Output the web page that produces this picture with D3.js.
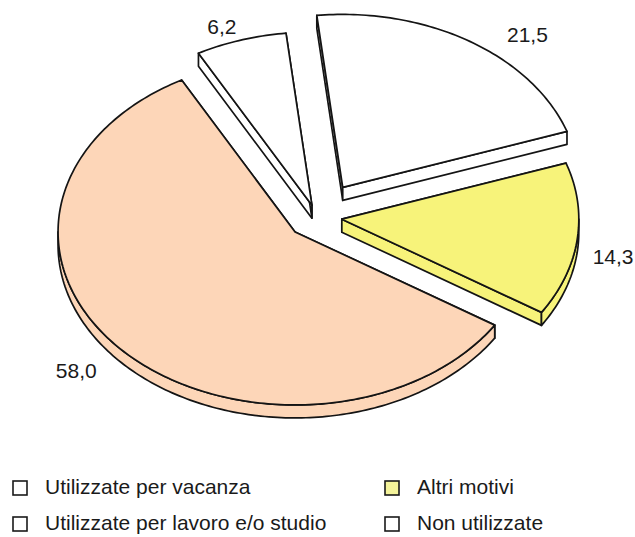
<!DOCTYPE html>
<html>
<head>
<meta charset="utf-8">
<script src="https://cdn.jsdelivr.net/npm/d3@7"></script>
<style>
  body { margin: 0; background: #ffffff; }
  text { font-family: "Liberation Sans", Arial, Helvetica, sans-serif; }
</style>
</head>
<body>
<svg id="chart" width="635" height="537"></svg>
<script>
// Slices, clockwise from the lower-right edge of the large slice
const categories = ["Utilizzate per vacanza", "Utilizzate per lavoro e/o studio", "Non utilizzate", "Altri motivi"];
const values = [58.0, 6.2, 21.5, 14.3];
const valueLabels = ["58,0", "6,2", "21,5", "14,3"];
const sliceColors = ["#fdd6b8", "#ffffff", "#ffffff", "#f7f37a"];

// Legend, read row by row in two columns
const legendItems = ["Utilizzate per vacanza", "Altri motivi", "Utilizzate per lavoro e/o studio", "Non utilizzate"];
const legendSwatches = ["#ffffff", "#f4f39a", "#ffffff", "#ffffff"];

// Layout of the tilted pie
const cx = 317, cy = 217;       // pie centre
const rx = 237, ry = 173;       // ellipse radii of the top face
const depth = 13;               // thickness of the disc
const startDeg = 122.6;         // where the first slice begins (d3 angle, clockwise from 12 o'clock)
const explode = [30, 17, 48, 25];            // push-out of each slice
const labelNudge = [[-16, 2], [-7, 16], [36, 20], [-4, 15]];
const labelRadius = 1.17;

const svg = d3.select("#chart");

const pie = d3.pie()
  .sort(null)
  .value(d => d.value)
  .startAngle(startDeg * Math.PI / 180)
  .endAngle(startDeg * Math.PI / 180 + 2 * Math.PI);

const data = values.map((v, i) => ({
  value: v, label: valueLabels[i], color: sliceColors[i], name: categories[i], i
}));
const arcs = pie(data);

// projection of a d3 angle onto the ellipse
const px = (a, r = 1) => rx * r * Math.sin(a);
const py = (a, r = 1) => -ry * r * Math.cos(a);

function arcPoints(a0, a1, dy = 0) {
  const n = Math.max(2, Math.ceil(Math.abs(a1 - a0) / (Math.PI / 180)));
  const pts = [];
  for (let k = 0; k <= n; k++) {
    const a = a0 + (a1 - a0) * k / n;
    pts.push([px(a), py(a) + dy]);
  }
  return pts;
}

const line = d3.line();

// draw back slices first
const order = arcs.slice().sort((p, q) => {
  const mp = (p.startAngle + p.endAngle) / 2, mq = (q.startAngle + q.endAngle) / 2;
  return -Math.cos(mp) - (-Math.cos(mq));
});

const strokeColor = "#141414";
const strokeW = 1.7;

order.forEach(s => {
  const d = s.data;
  const mid = (s.startAngle + s.endAngle) / 2;
  const off = explode[d.i];
  const ox = cx + off * Math.sin(mid);
  const oy = cy - off * (ry / rx) * Math.cos(mid);
  const g = svg.append("g").attr("transform", `translate(${ox},${oy})`);

  const a0 = s.startAngle, a1 = s.endAngle;

  // radial walls
  [a0, a1].forEach(a => {
    const quad = [[0, 0], [px(a), py(a)], [px(a), py(a) + depth], [0, depth]];
    g.append("path")
      .attr("d", line(quad) + "Z")
      .attr("fill", d.color)
      .attr("stroke", strokeColor)
      .attr("stroke-width", strokeW)
      .attr("stroke-linejoin", "round");
  });

  // outer curved wall, only where it faces the viewer
  for (let k = -1; k <= 2; k++) {
    const v0 = Math.PI / 2 + 2 * Math.PI * k, v1 = 3 * Math.PI / 2 + 2 * Math.PI * k;
    const b0 = Math.max(a0, v0), b1 = Math.min(a1, v1);
    if (b1 - b0 > 1e-4) {
      const top = arcPoints(b0, b1, 0);
      const bot = arcPoints(b1, b0, depth);
      g.append("path")
        .attr("d", line(top.concat(bot)) + "Z")
        .attr("fill", d.color)
        .attr("stroke", strokeColor)
        .attr("stroke-width", strokeW)
        .attr("stroke-linejoin", "round");
    }
  }

  // top face
  const face = [[0, 0]].concat(arcPoints(a0, a1, 0));
  g.append("path")
    .attr("d", line(face) + "Z")
    .attr("fill", d.color)
    .attr("stroke", strokeColor)
    .attr("stroke-width", strokeW)
    .attr("stroke-linejoin", "round");

  // value label
  const [nx, ny] = labelNudge[d.i];
  g.append("text")
    .attr("x", px(mid, labelRadius) + nx)
    .attr("y", py(mid, labelRadius) + ny)
    .attr("text-anchor", "middle")
    .attr("dominant-baseline", "middle")
    .attr("font-size", 21)
    .attr("fill", "#1a1a1a")
    .text(d.label);
});

// legend
const legendX = d3.scalePoint().domain([0, 1]).range([13, 385]);
const legendY = d3.scalePoint().domain([0, 1]).range([488, 524]);

legendItems.forEach((name, i) => {
  const col = i % 2, row = Math.floor(i / 2);
  const x = legendX(col), y = legendY(row);
  svg.append("rect")
    .attr("x", x).attr("y", y - 7)
    .attr("width", 14).attr("height", 14)
    .attr("fill", legendSwatches[i])
    .attr("stroke", "#1a1a1a")
    .attr("stroke-width", 1.6);
  svg.append("text")
    .attr("x", x + 32).attr("y", y)
    .attr("dominant-baseline", "middle")
    .attr("font-size", 21)
    .attr("fill", "#1a1a1a")
    .text(name);
});
</script>
</body>
</html>
